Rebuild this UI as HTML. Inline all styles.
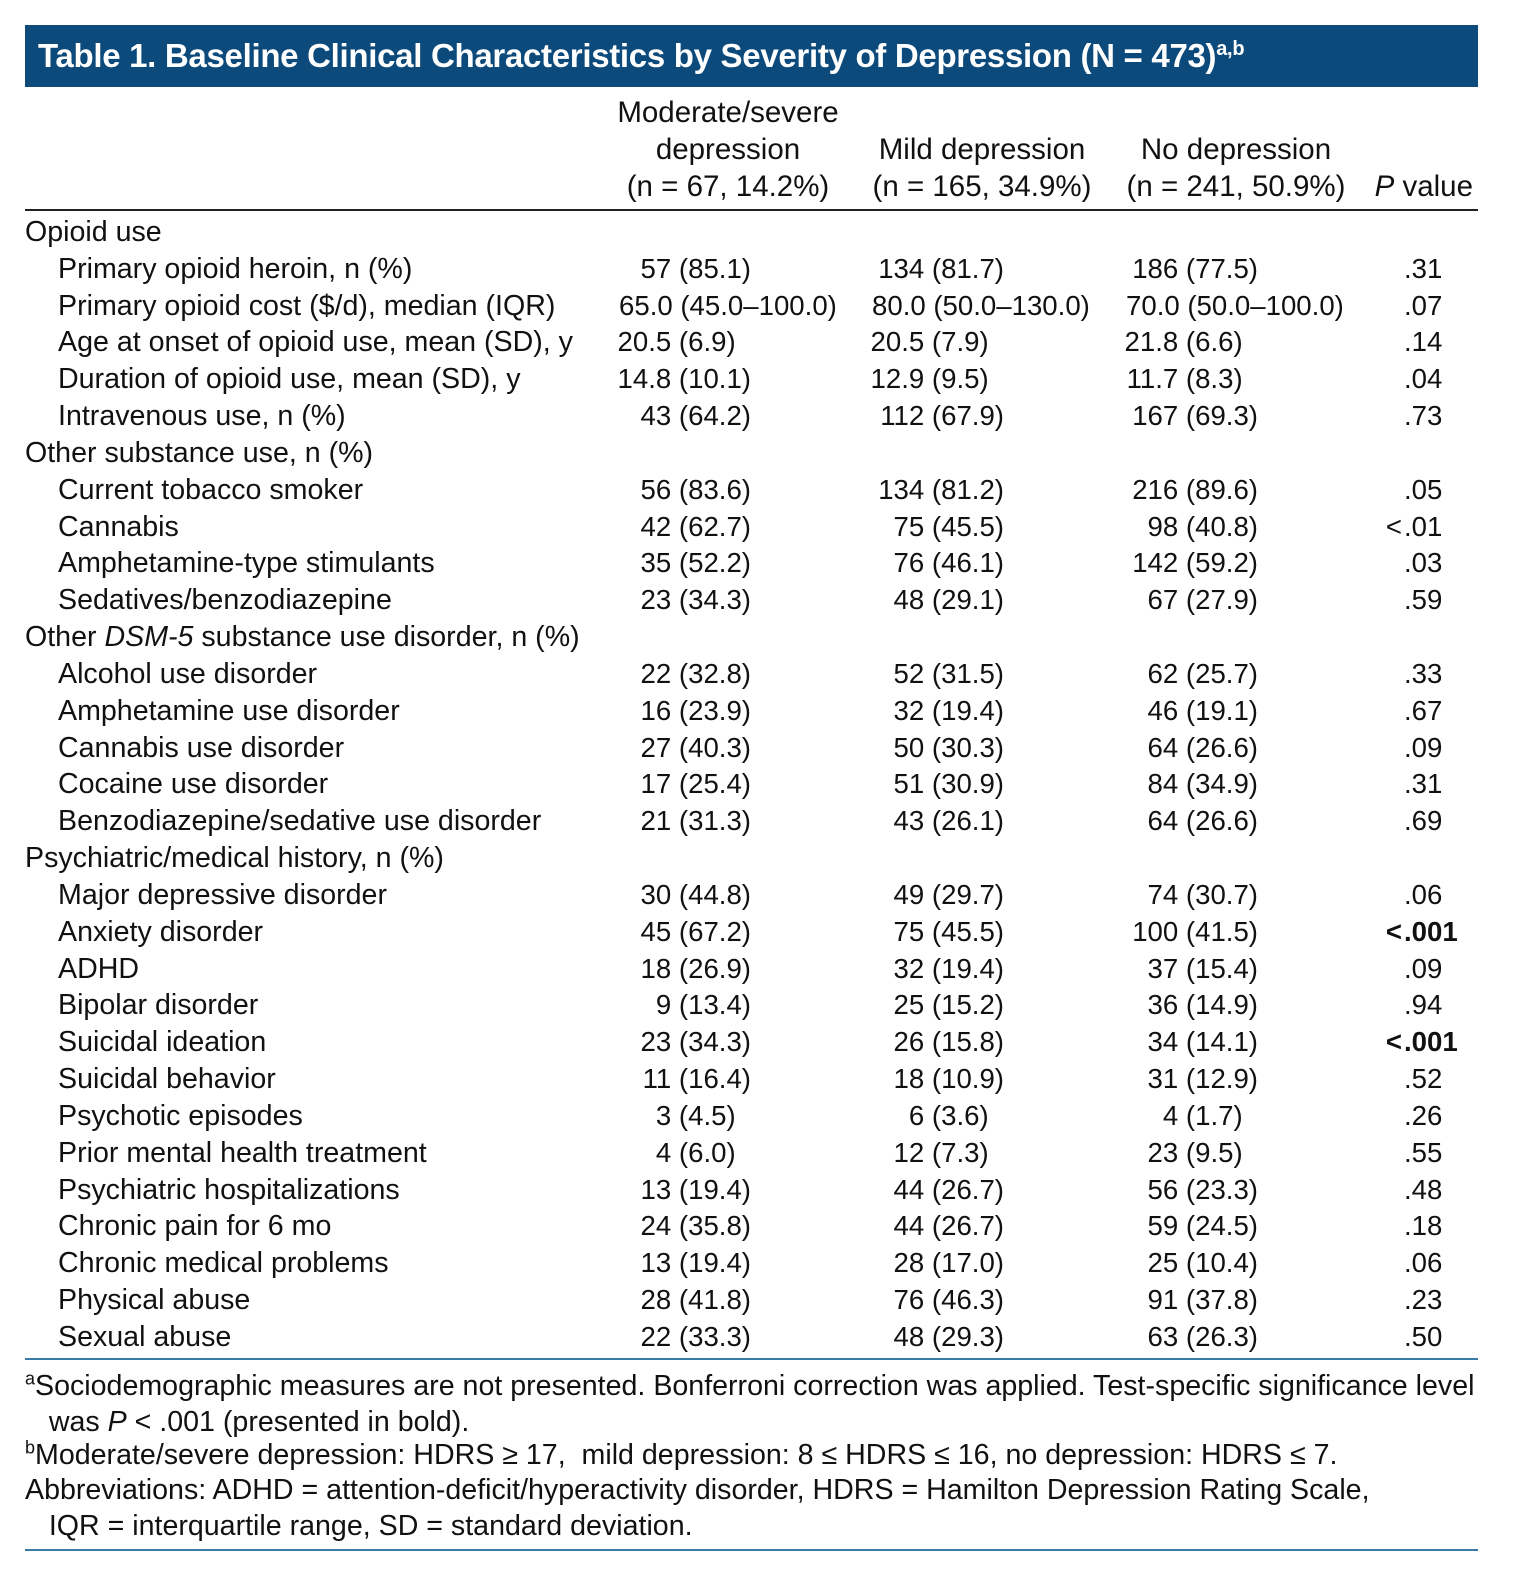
<!DOCTYPE html>
<html><head><meta charset="utf-8">
<style>
body{margin:0;background:#fff;width:1525px;height:1596px;position:relative;overflow:hidden;font-family:"Liberation Sans",sans-serif;color:#111;}
.t{position:absolute;font-size:28.6px;line-height:36px;white-space:pre;letter-spacing:0;}
.v{font-size:27.6px;}
.r{text-align:right;}
.c{text-align:center;}
.h{font-size:29.5px;line-height:37px;}
#title{position:absolute;left:25px;top:25px;width:1453px;height:62px;background:#0c4a7c;color:#fff;font-weight:bold;font-size:33px;line-height:62px;padding-left:13px;box-sizing:border-box;letter-spacing:-0.3px;}
#title sup{font-size:20px;vertical-align:12px;line-height:0;}
.rule{position:absolute;left:25px;width:1453px;}
sup{font-size:18px;line-height:0;}
</style></head><body>
<div id="title">Table 1. Baseline Clinical Characteristics by Severity of Depression (N = 473)<sup>a,b</sup></div>
<div class="t c h" style="left:578px;width:300px;top:94px;">Moderate/severe
depression
(n = 67, 14.2%)</div>
<div class="t c h" style="left:832px;width:300px;top:131px;">Mild depression
(n = 165, 34.9%)</div>
<div class="t c h" style="left:1086px;width:300px;top:131px;">No depression
(n = 241, 50.9%)</div>
<div class="t r h" style="left:1273px;width:200px;top:168px;"><i>P</i> value</div>
<div class="rule" style="top:209px;height:2px;background:#222;"></div>
<div id="rows"></div>
<div class="rule" style="top:1358px;height:2px;background:#3b7ca6;"></div>
<div class="t" style="left:25px;top:1368px;"><sup>a</sup>Sociodemographic measures are not presented. Bonferroni correction was applied. Test-specific significance level
   was <i>P</i> &lt; .001 (presented in bold).</div>
<div class="t" style="left:25px;top:1437px;"><sup>b</sup>Moderate/severe depression: HDRS ≥ 17,  mild depression: 8 ≤ HDRS ≤ 16, no depression: HDRS ≤ 7.</div>
<div class="t" style="left:25px;top:1472px;">Abbreviations: ADHD = attention-deficit/hyperactivity disorder, HDRS = Hamilton Depression Rating Scale,
   IQR = interquartile range, SD = standard deviation.</div>
<div class="rule" style="top:1549px;height:2px;background:#3b7ca6;"></div>
<script>
const labels=["Opioid use","Primary opioid heroin, n (%)","Primary opioid cost ($/d), median (IQR)","Age at onset of opioid use, mean (SD), y","Duration of opioid use, mean (SD), y","Intravenous use, n (%)","Other substance use, n (%)","Current tobacco smoker","Cannabis","Amphetamine-type stimulants","Sedatives/benzodiazepine","Other <i>DSM-5</i> substance use disorder, n (%)","Alcohol use disorder","Amphetamine use disorder","Cannabis use disorder","Cocaine use disorder","Benzodiazepine/sedative use disorder","Psychiatric/medical history, n (%)","Major depressive disorder","Anxiety disorder","ADHD","Bipolar disorder","Suicidal ideation","Suicidal behavior","Psychotic episodes","Prior mental health treatment","Psychiatric hospitalizations","Chronic pain for 6 mo","Chronic medical problems","Physical abuse","Sexual abuse"];
const moderate=["","57 (85.1)","65.0 (45.0–100.0)","20.5 (6.9)","14.8 (10.1)","43 (64.2)","","56 (83.6)","42 (62.7)","35 (52.2)","23 (34.3)","","22 (32.8)","16 (23.9)","27 (40.3)","17 (25.4)","21 (31.3)","","30 (44.8)","45 (67.2)","18 (26.9)","9 (13.4)","23 (34.3)","11 (16.4)","3 (4.5)","4 (6.0)","13 (19.4)","24 (35.8)","13 (19.4)","28 (41.8)","22 (33.3)"];
const mild=["","134 (81.7)","80.0 (50.0–130.0)","20.5 (7.9)","12.9 (9.5)","112 (67.9)","","134 (81.2)","75 (45.5)","76 (46.1)","48 (29.1)","","52 (31.5)","32 (19.4)","50 (30.3)","51 (30.9)","43 (26.1)","","49 (29.7)","75 (45.5)","32 (19.4)","25 (15.2)","26 (15.8)","18 (10.9)","6 (3.6)","12 (7.3)","44 (26.7)","44 (26.7)","28 (17.0)","76 (46.3)","48 (29.3)"];
const none=["","186 (77.5)","70.0 (50.0–100.0)","21.8 (6.6)","11.7 (8.3)","167 (69.3)","","216 (89.6)","98 (40.8)","142 (59.2)","67 (27.9)","","62 (25.7)","46 (19.1)","64 (26.6)","84 (34.9)","64 (26.6)","","74 (30.7)","100 (41.5)","37 (15.4)","36 (14.9)","34 (14.1)","31 (12.9)","4 (1.7)","23 (9.5)","56 (23.3)","59 (24.5)","25 (10.4)","91 (37.8)","63 (26.3)"];
const pvals=["",".31",".07",".14",".04",".73","",".05","<.01",".03",".59","",".33",".67",".09",".31",".69","",".06","<.001",".09",".94","<.001",".52",".26",".55",".48",".18",".06",".23",".50"];
const sections=[0,6,11,17];
const host=document.getElementById('rows');
function cell(html,left,top,cls,w){const d=document.createElement('div');d.className='t '+(cls||'');d.style.left=left+'px';d.style.top=top+'px';if(w)d.style.width=w+'px';d.innerHTML=html;host.appendChild(d);return d;}
function fmt(v){const m=v.match(/\((\d+)\./);return (m&&m[1].length===1)?v+'\u2007':v;}
const rights=[751,1004,1258],lefts=[619,872,1126];
labels.forEach((lab,i)=>{
  const top=214+i*36.83;
  const isSec=sections.includes(i);
  const l=cell(lab,isSec?25:58,top);
  
  
  [moderate,mild,none].forEach((arr,k)=>{
    if(!arr[i])return;
    let c;
    if(i===2){c=cell(arr[i],lefts[k],top,'v');}
    else{c=cell(fmt(arr[i]),rights[k]-300,top,'v r',300);}
    
    
  });
  const p=pvals[i];
  if(p){
    const lt=p.startsWith('<');
    const body=lt?p.slice(1):p;
    const bold=p==='<.001';
    const pc=cell((bold?'<b>':'')+body+(bold?'</b>':''),1404,top,'v');
    
    
    if(lt){
      const ltc=cell(bold?'<b>&lt;</b>':'&lt;',1302,top,'v r',100);
      
      
    }
  }
});
</script>
</body></html>
